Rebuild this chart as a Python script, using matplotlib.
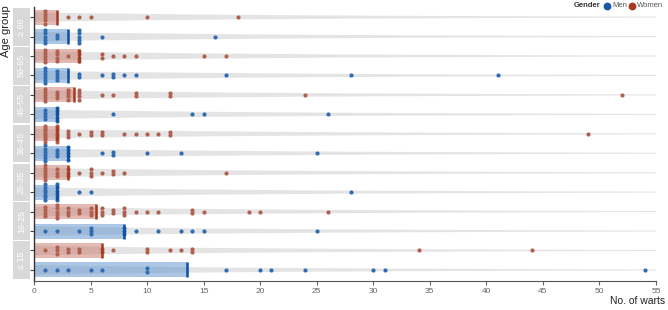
import matplotlib
matplotlib.use("Agg")
import matplotlib.pyplot as plt
import numpy as np
from matplotlib.patches import Rectangle, Polygon

plt.rcParams['font.family'] = ['Liberation Sans', 'DejaVu Sans']

# age groups, bottom to top
groups = ["≤ 15", "16-25", "26-35", "36-45", "46-55", "56-65", "≥ 66"]

# no. of warts per person, one list per age group (same order as groups)
men_warts = [
    [1, 2, 3, 5, 6, 10, 10, 17, 20, 21, 24, 30, 31, 54],
    [1, 2, 4, 5, 5, 5, 8, 8, 8, 9, 11, 13, 14, 15, 25],
    [1, 1, 1, 1, 1, 1, 1, 2, 2, 2, 2, 2, 2, 4, 5, 28],
    [1, 1, 1, 1, 1, 1, 2, 2, 2, 3, 3, 3, 3, 3, 6, 7, 7, 10, 13, 25],
    [1, 1, 1, 1, 2, 2, 2, 2, 2, 7, 14, 15, 26],
    [1, 1, 1, 1, 1, 1, 2, 2, 2, 2, 4, 4, 6, 7, 7, 8, 9, 17, 28, 41],
    [1, 1, 1, 1, 1, 2, 2, 4, 4, 4, 4, 4, 6, 16],
]
women_warts = [
    [1, 2, 2, 2, 3, 3, 4, 4, 6, 6, 7, 10, 10, 12, 13, 14, 14, 34, 44],
    [1, 1, 1, 1, 2, 2, 2, 2, 2, 3, 3, 3, 4, 4, 5, 5, 5, 6, 6, 6, 7, 7,
     8, 8, 8, 9, 10, 11, 14, 14, 15, 19, 20, 26],
    [1, 1, 1, 1, 1, 1, 2, 2, 2, 3, 3, 3, 4, 5, 5, 5, 6, 7, 7, 8, 17],
    [1, 1, 1, 1, 1, 1, 1, 1, 2, 2, 2, 2, 2, 2, 2, 2, 3, 3, 3, 4, 5, 5,
     6, 6, 8, 9, 10, 11, 12, 12, 49],
    [1, 1, 1, 1, 1, 2, 2, 2, 3, 3, 3, 3, 4, 4, 4, 4, 6, 7, 9, 9, 12, 12, 24, 52],
    [1, 1, 1, 1, 1, 2, 2, 2, 2, 3, 4, 4, 4, 4, 6, 6, 7, 8, 9, 15, 17],
    [1, 1, 1, 1, 1, 3, 4, 5, 10, 18],
]
x_ticks = [0, 5, 10, 15, 20, 25, 30, 35, 40, 45, 50, 55]

men_dot = '#2f6db3'
women_dot = '#b0604f'
men_bar = '#5b8fcf'
women_bar = '#c9766a'
men_line = '#0b4ea2'
women_line = '#a8381f'

W, H = 668, 310
fig = plt.figure(figsize=(W / 100, H / 100), dpi=100)
ax = fig.add_axes([34 / W, 1 - 281 / H, 622 / W, 274 / H])

row_px = 19.46
pitch = 3.2 / row_px
bar_h = 15 / row_px

xs = np.linspace(0, 55, 200)
half = 0.5 * (9.5 / row_px) * np.exp(-xs / 25)


def draw_row(y, vals, dot, barc, linec):
    # grey tapered band
    pts = np.concatenate([np.column_stack([xs, y + half]),
                          np.column_stack([xs[::-1], y - half[::-1]])])
    ax.add_patch(Polygon(pts, closed=True, fc='#e4e4e4', ec='none', zorder=1))
    med = np.median(vals)
    ax.barh(y, med, height=bar_h, color=barc, alpha=0.5, lw=0, zorder=2)
    v, c = np.unique(vals, return_counts=True)
    for xv, n in zip(v, c):
        p = min(pitch, 0.8 / max(n - 1, 1))
        ys = y + (np.arange(n) - (n - 1) / 2) * p
        ax.scatter([xv] * n, ys, s=9, color=dot, lw=0, zorder=3)
    ax.plot([med, med], [y - bar_h / 2, y + bar_h / 2], color=linec, lw=1.8,
            solid_capstyle='butt', zorder=4)


for g in range(len(groups)):
    draw_row(2 * g, men_warts[g], men_dot, men_bar, men_line)
    draw_row(2 * g + 1, women_warts[g], women_dot, women_bar, women_line)

ax.set_xlim(0, 55)
ax.set_ylim(-0.57, 13.52)
ax.set_xticks(x_ticks)
ax.set_yticks(range(2 * len(groups)))
ax.set_yticklabels([])
ax.tick_params(axis='x', labelsize=6, colors='#666666', length=3, pad=2)
ax.tick_params(axis='y', length=3, color='#444444')
for s in ['top', 'right']:
    ax.spines[s].set_visible(False)
ax.spines['left'].set_color('#333333')
ax.spines['bottom'].set_color('#555555')
ax.spines['left'].set_linewidth(1.0)
ax.spines['bottom'].set_linewidth(0.8)

# facet strips on the left
tr = ax.get_yaxis_transform()
x0 = -(34 - 13) / 622
x1 = -(34 - 30) / 622
for g, name in enumerate(groups):
    ax.add_patch(Rectangle((x0, 2 * g - 0.47), x1 - x0, 1.94, transform=tr,
                           fc='#d9d9d9', ec='none', clip_on=False))
    ax.text((x0 + x1) / 2, 2 * g + 0.5, name, transform=tr, rotation=90,
            ha='center', va='center', color='white', fontsize=6.5)

fig.text(6 / W, 1 - 5 / H, 'Age group', rotation=90, ha='center', va='top',
         fontsize=8, color='#222222')
fig.text(665 / W, 1 - 301 / H, 'No. of warts', ha='right', va='center',
         fontsize=7.5, color='#222222')

# legend
ly = 1 - 5.5 / H
fig.text(601 / W, ly, 'Gender', ha='right', va='center', fontsize=5.5,
         fontweight='bold', color='#333333')
fig.add_artist(plt.Line2D([607 / W], [ly], marker='o', ms=4.6, color='#1a56a6',
                          transform=fig.transFigure))
fig.text(612 / W, ly, 'Men', ha='left', va='center', fontsize=5.5, color='#555555')
fig.add_artist(plt.Line2D([632 / W], [ly], marker='o', ms=4.6, color='#a8381f',
                          transform=fig.transFigure))
fig.text(637 / W, ly, 'Women', ha='left', va='center', fontsize=5.5, color='#555555')

fig.savefig('out.png', dpi=100)
